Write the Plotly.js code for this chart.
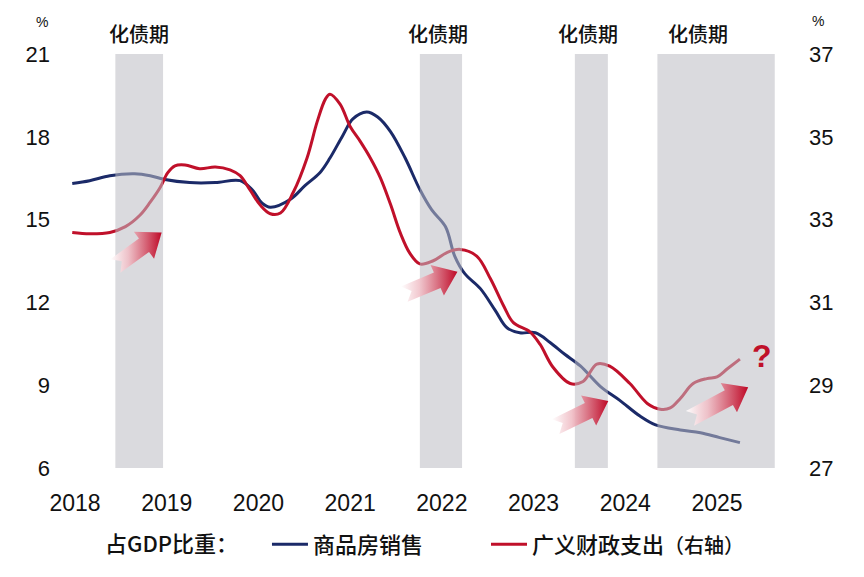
<!DOCTYPE html>
<html>
<head>
<meta charset="utf-8">
<script src="https://cdn.plot.ly/plotly-3.0.1.min.js"></script>
<style>html,body{margin:0;padding:0;background:#fff;}#chart{width:864px;height:577px;}</style>
</head>
<body>
<div id="chart"></div>
<script>
// ---------- DATA ----------
const years = [2018, 2019, 2020, 2021, 2022, 2023, 2024, 2025];
const yearLabels = ['2018', '2019', '2020', '2021', '2022', '2023', '2024', '2025'];

// 商品房销售 占GDP比重 (%, left axis)
const salesX = [2017.97,2018.16,2018.38,2018.65,2018.82,2018.98,2019.25,2019.53,2019.80,2019.93,
                2020.04,2020.13,2020.35,2020.51,2020.67,2020.78,2020.92,2021.03,2021.18,2021.30,
                2021.44,2021.60,2021.76,2021.89,2022.04,2022.14,2022.25,2022.42,2022.58,2022.71,
                2022.85,2023.02,2023.18,2023.34,2023.51,2023.73,2023.94,2024.16,2024.33,2024.60,
                2024.82,2025.03,2025.25];
const salesY = [16.31,16.41,16.59,16.66,16.59,16.45,16.34,16.34,16.41,16.09,
                15.60,15.45,15.74,16.24,16.70,17.23,18.05,18.65,18.90,18.72,
                18.19,17.23,16.09,15.35,14.74,13.68,13.04,12.50,11.72,11.08,
                10.90,10.90,10.55,10.12,9.70,8.95,8.45,7.88,7.56,7.38,
                7.28,7.10,6.92];

// 广义财政支出 占GDP比重 (%, right axis)
const fiscalX = [2017.97,2018.16,2018.38,2018.55,2018.71,2018.82,2018.93,2019.01,2019.09,2019.20,
                 2019.36,2019.53,2019.69,2019.80,2019.91,2020.02,2020.13,2020.24,2020.38,2020.53,
                 2020.64,2020.73,2020.78,2020.89,2021.00,2021.11,2021.22,2021.33,2021.44,2021.55,
                 2021.65,2021.76,2021.90,2022.06,2022.20,2022.38,2022.53,2022.67,2022.78,2022.96,
                 2023.07,2023.21,2023.40,2023.54,2023.69,2023.83,2024.05,2024.24,2024.38,2024.49,
                 2024.60,2024.74,2024.89,2025.00,2025.11,2025.25];
const fiscalY = [32.69,32.66,32.69,32.83,33.11,33.42,33.78,34.13,34.30,34.32,
                 34.23,34.27,34.20,34.06,33.71,33.35,33.14,33.16,33.66,34.49,
                 35.36,35.91,36.03,35.79,35.25,34.89,34.49,34.01,33.37,32.66,
                 32.19,31.93,32.00,32.21,32.28,32.12,31.57,30.93,30.51,30.29,
                 29.99,29.44,29.04,29.09,29.51,29.46,29.04,28.56,28.42,28.45,
                 28.68,29.04,29.16,29.20,29.39,29.63];

// 化债期 periods
const debtStart = [2018.44, 2021.76, 2023.45, 2024.35];
const debtEnd   = [2018.96, 2022.22, 2023.81, 2025.63];
const debtLabel = '化债期';

const leftTicks  = [6, 9, 12, 15, 18, 21];
const rightTicks = [27, 29, 31, 33, 35, 37];

const salesName  = '商品房销售';
const fiscalName = '广义财政支出<span style="font-size:20px">（右轴）</span>';
const legendTitle = '占GDP比重：\u3000\u00a0\u00a0';

// ---------- LAYOUT CONFIG (decorations) ----------
const W = 864, H = 577;
const M = {l: 70, r: 75, t: 54, b: 101};
const xRange = [2017.9455, 2025.785];
const yRange = [6, 21];
const y2Range = [27, 37];
const bandLabelX = [2018.70, 2021.96, 2023.59, 2024.79];
const arrowSpecs = [
  {x0: 2018.440, y0: 31.88, x1: 2018.945, y1: 32.69},
  {x0: 2021.590, y0: 31.20, x1: 2022.170, y1: 31.74},
  {x0: 2023.240, y0: 28.00, x1: 2023.815, y1: 28.62},
  {x0: 2024.705, y0: 28.20, x1: 2025.340, y1: 28.95}
];
const qMark = {x: 2025.49, y: 29.70};

const NAVY = '#1b2a68';
const RED = '#c0102a';
const FONT = '"Liberation Sans", Arial, "Noto Sans CJK SC", sans-serif';
const CJK = '"Noto Sans CJK SC", "Liberation Sans", sans-serif';

const plotW = W - M.l - M.r, plotH = H - M.t - M.b;
const sx = plotW / (xRange[1] - xRange[0]);
const sy = plotH / (y2Range[1] - y2Range[0]);
function toPx(x, y) { return [(x - xRange[0]) * sx, (y2Range[1] - y) * sy]; }
function toData(p) { return [xRange[0] + p[0] / sx, y2Range[1] - p[1] / sy]; }
function paperX(px) { return (px - M.l) / plotW; }
function paperY(py) { return (H - M.b - py) / plotH; }

function arrowPolygon(a) {
  const T = toPx(a.x0, a.y0), P = toPx(a.x1, a.y1);
  const dx = P[0] - T[0], dy = P[1] - T[1];
  const L = Math.hypot(dx, dy);
  const u = [dx / L, dy / L], n = [-u[1], u[0]];
  const hl = 22, hw = 17, bw = 8.5, notch = 8;
  const pt = (s, w) => [T[0] + u[0] * s + n[0] * w, T[1] + u[1] * s + n[1] * w];
  const pts = [pt(0, bw), pt(notch, 0), pt(0, -bw), pt(L - hl, -bw), pt(L - hl, -hw),
               P, pt(L - hl, hw), pt(L - hl, bw), pt(0, bw)];
  const d = pts.map(toData);
  return {x: d.map(p => p[0]), y: d.map(p => p[1])};
}

// ---------- TRACES ----------
const traces = [];
traces.push({
  type: 'scatter', mode: 'lines', x: salesX, y: salesY, name: salesName, legend: 'legend',
  line: {color: NAVY, width: 3, shape: 'spline', smoothing: 1}, hoverinfo: 'skip'
});
traces.push({
  type: 'scatter', mode: 'lines', x: fiscalX, y: fiscalY, name: fiscalName, yaxis: 'y2', legend: 'legend2',
  line: {color: RED, width: 3, shape: 'spline', smoothing: 1}, hoverinfo: 'skip'
});
for (let i = 0; i < debtStart.length; i++) {
  traces.push({
    type: 'scatter', mode: 'none', yaxis: 'y2', showlegend: false, hoverinfo: 'skip',
    x: [debtStart[i], debtEnd[i], debtEnd[i], debtStart[i], debtStart[i]],
    y: [y2Range[0], y2Range[0], y2Range[1], y2Range[1], y2Range[0]],
    fill: 'toself', fillcolor: 'rgba(188,188,194,0.55)'
  });
}
arrowSpecs.forEach(a => {
  const poly = arrowPolygon(a);
  traces.push({
    type: 'scatter', mode: 'none', yaxis: 'y2', showlegend: false, hoverinfo: 'skip',
    x: poly.x, y: poly.y, fill: 'toself', fillcolor: RED,
    fillgradient: {type: 'horizontal',
      colorscale: [[0, 'rgba(255,255,255,0.95)'], [0.35, 'rgba(240,190,198,0.9)'], [1, 'rgb(190,8,38)']]}
  });
});

// ---------- LAYOUT ----------
const annotations = [];
bandLabelX.forEach(x => annotations.push({
  x: x, xref: 'x', y: paperY(33), yref: 'paper', text: debtLabel, showarrow: false,
  xanchor: 'center', yanchor: 'middle',
  font: {family: CJK, size: 20, color: '#111', weight: 500}
}));
annotations.push({
  x: paperX(42), xref: 'paper', y: paperY(21), yref: 'paper', xanchor: 'center', yanchor: 'middle',
  text: '%', showarrow: false, font: {family: FONT, size: 14, color: '#111'}
});
annotations.push({
  x: paperX(818), xref: 'paper', y: paperY(20), yref: 'paper', xanchor: 'center', yanchor: 'middle',
  text: '%', showarrow: false, font: {family: FONT, size: 14, color: '#111'}
});
annotations.push({x: qMark.x, y: qMark.y, xref: 'x', yref: 'y2', text: '<b>?</b>', showarrow: false,
  xanchor: 'center', yanchor: 'middle', font: {family: FONT, size: 32, color: RED}});

const legendFont = {family: CJK, size: 22, color: '#111', weight: 500};
const layout = {
  width: W, height: H,
  margin: M,
  paper_bgcolor: '#fff', plot_bgcolor: '#fff',
  font: {family: FONT, color: '#111'},
  showlegend: true,
  legend: {
    orientation: 'h', x: paperX(103), xanchor: 'left', y: paperY(554), yanchor: 'middle',
    font: legendFont, title: {text: legendTitle, side: 'left', font: legendFont},
    bgcolor: 'rgba(0,0,0,0)', itemwidth: 36
  },
  legend2: {
    orientation: 'h', x: paperX(486), xanchor: 'left', y: paperY(554), yanchor: 'middle',
    font: legendFont, bgcolor: 'rgba(0,0,0,0)', itemwidth: 36
  },
  xaxis: {
    range: xRange, tickmode: 'array', tickvals: years, ticktext: yearLabels,
    showgrid: false, zeroline: false, showline: false, ticks: '',
    ticklabelstandoff: 19,
    tickfont: {family: FONT, size: 23, color: '#111'}
  },
  yaxis: {
    range: yRange, tickmode: 'array', tickvals: leftTicks,
    showgrid: false, zeroline: false, showline: false, ticks: '',
    ticklabelstandoff: 19,
    tickfont: {family: FONT, size: 22, color: '#111'}
  },
  yaxis2: {
    range: y2Range, overlaying: 'y', side: 'right', tickmode: 'array', tickvals: rightTicks,
    showgrid: false, zeroline: false, showline: false, ticks: '',
    ticklabelstandoff: 19,
    tickfont: {family: FONT, size: 22, color: '#111'}
  },
  annotations: annotations
};

Plotly.newPlot('chart', traces, layout, {staticPlot: true, displayModeBar: false});
</script>
</body>
</html>
